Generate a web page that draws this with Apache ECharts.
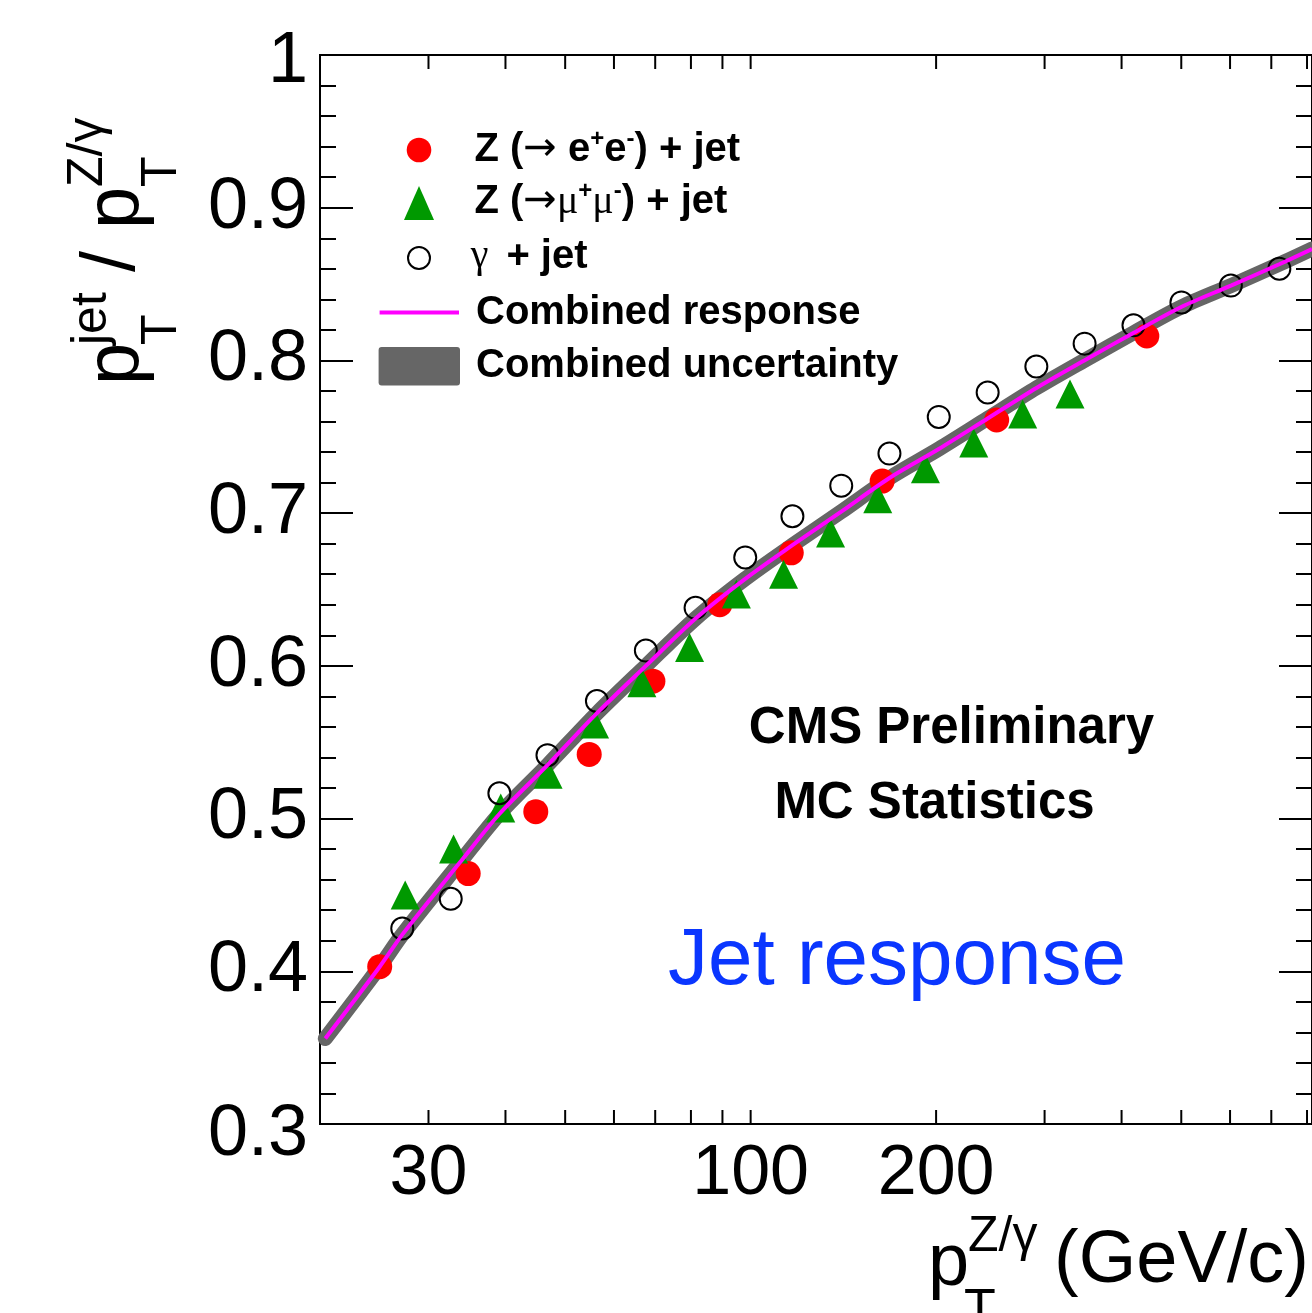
<!DOCTYPE html>
<html><head><meta charset="utf-8">
<script src="https://cdn.jsdelivr.net/npm/echarts@6/dist/echarts.min.js"></script>
<style>html,body{margin:0;padding:0;background:#fff}#c{width:1312px;height:1313px}</style>
</head><body><div id="c"></div>
<script>
// ---- data ----
const zeeX = [25.0, 34.8, 44.8, 54.7, 69.4, 89.1, 116.4, 163.5, 250.8, 439.6];
const zeeY = [0.403, 0.464, 0.5045, 0.542, 0.590, 0.640, 0.674, 0.721, 0.761, 0.816];
const zmmX = [27.5, 32.95, 39.3, 46.9, 55.8, 66.6, 79.6, 94.8, 113.1, 134.8, 160.8, 192.2, 230.2, 276.4, 329.9];
const zmmY = [0.450, 0.480, 0.507, 0.529, 0.562, 0.589, 0.612, 0.647, 0.660, 0.687, 0.7095, 0.729, 0.746, 0.765, 0.778];
const gamX = [27.2, 32.6, 39.1, 46.8, 56.3, 67.6, 81.4, 98.0, 116.9, 140.3, 168.0, 202.0, 242.5, 290.9, 348.4, 418.2, 500.3, 601.8, 721.4];
const gamY = [0.428, 0.4475, 0.5166, 0.5415, 0.577, 0.610, 0.638, 0.671, 0.698, 0.718, 0.739, 0.763, 0.779, 0.796, 0.811, 0.823, 0.838, 0.849, 0.860];
const combX = [20.4, 25, 27.2, 33.7, 39.1, 46.8, 56.3, 67.6, 81.4, 98, 116.9, 140.3, 168, 202, 242.5, 291, 348, 418, 500, 602, 721, 815];
const combY = [0.356, 0.403, 0.424, 0.471, 0.503, 0.535, 0.569, 0.600, 0.631, 0.657, 0.679, 0.701, 0.723, 0.742, 0.762, 0.782, 0.800, 0.818, 0.835, 0.849, 0.863, 0.873];
const xTicks = [30, 40, 50, 60, 70, 80, 90, 100, 200, 300, 400, 500, 600, 700, 800];
const xTickLabels = [30, 100, 200];
const yMin = 0.3, yMax = 1.0, yStep = 0.1;
const xMin = 20, xMax = 815;

const pairs = (xs, ys) => xs.map((x, i) => [x, ys[i]]);
const F = '"Liberation Sans", Arial, Helvetica, sans-serif';
const FS = '"Liberation Serif", "DejaVu Serif", serif';
const FA = '"DejaVu Sans", sans-serif';

const chart = echarts.init(document.getElementById('c'), null, {renderer: 'canvas'});

const yAxisCommon = {
  type: 'value', min: yMin, max: yMax, interval: yStep,
  axisLine: {show: true, lineStyle: {color: '#000', width: 2}},
  axisTick: {show: true, inside: true, length: 33, lineStyle: {color: '#000', width: 2}},
  minorTick: {show: true, splitNumber: 5, length: 16, lineStyle: {color: '#000', width: 2}},
  splitLine: {show: false}, minorSplitLine: {show: false}
};

const labFont = {fontSize: 72, fontFamily: F, color: '#000'};

const legendRich = {
  b: {fontSize: 40, fontWeight: 'bold', fontFamily: F, color: '#000', lineHeight: 46, verticalAlign: 'middle'},
  s: {fontSize: 40, fontFamily: FS, color: '#000', lineHeight: 46, verticalAlign: 'middle'},
  a: {fontSize: 40, fontFamily: FA, color: '#000', lineHeight: 46, verticalAlign: 'middle'},
  p: {fontSize: 24, fontFamily: F, fontWeight: 'bold', color: '#000', lineHeight: 28, verticalAlign: 'top'}
};

function legendText(x, y, text) {
  return {type: 'text', x: x, y: y, style: {text: text, rich: legendRich, verticalAlign: 'middle', align: 'left'}};
}

const titleY = {
  type: 'group', x: 140, y: 385, rotation: Math.PI / 2,
  children: [
    {type: 'text', x: 0, y: -23, style: {text: 'p', fontSize: 76, fontFamily: F, fill: '#000', verticalAlign: 'middle'}},
    {type: 'text', x: 40, y: 22, style: {text: 'T', fontSize: 50, fontFamily: F, fill: '#000', verticalAlign: 'middle'}},
    {type: 'text', x: 40, y: -48, style: {text: 'jet', fontSize: 50, fontFamily: F, fill: '#000', verticalAlign: 'middle'}},
    {type: 'text', x: 92, y: -27, style: {text: ' / ', fontSize: 76, fontFamily: F, fill: '#000', verticalAlign: 'middle'}},
    {type: 'text', x: 156, y: -23, style: {text: 'p', fontSize: 76, fontFamily: F, fill: '#000', verticalAlign: 'middle'}},
    {type: 'text', x: 198, y: 22, style: {text: 'T', fontSize: 50, fontFamily: F, fill: '#000', verticalAlign: 'middle'}},
    {type: 'text', x: 198, y: -52, style: {text: 'Z/γ', fontSize: 50, fontFamily: F, fill: '#000', verticalAlign: 'middle'}}
  ]
};

const titleX = [
  {type: 'text', x: 928, y: 1265, style: {text: 'p', fontSize: 74, fontFamily: F, fill: '#000', verticalAlign: 'middle'}},
  {type: 'text', x: 964, y: 1311, style: {text: 'T', fontSize: 52, fontFamily: F, fill: '#000', verticalAlign: 'middle'}},
  {type: 'text', x: 968, y: 1237, style: {text: 'Z/γ', fontSize: 50, fontFamily: F, fill: '#000', verticalAlign: 'middle'}},
  {type: 'text', x: 1309, y: 1262, style: {text: '(GeV/c)', fontSize: 74, fontFamily: F, fill: '#000', align: 'right', verticalAlign: 'middle'}}
];

const option = {
  animation: false,
  backgroundColor: '#fff',
  grid: {left: 320, top: 55, width: 993, height: 1069, show: true, borderColor: '#000', borderWidth: 2, backgroundColor: 'transparent'},
  xAxis: {type: 'log', logBase: 10, min: xMin, max: xMax,
    axisLine: {show: true, lineStyle: {color: '#000', width: 2}}, axisTick: {show: false}, axisLabel: {show: false},
    splitLine: {show: false}, minorTick: {show: false}},
  yAxis: [
    Object.assign({}, yAxisCommon, {position: 'left',
      axisLabel: Object.assign({show: true, margin: 12,
        formatter: v => {
          if (Math.abs(v - 1) < 1e-9) return '{top|1}';
          if (Math.abs(v - yMin) < 1e-9) return '{bot|' + v.toFixed(1) + '}';
          return v.toFixed(1);
        },
        rich: {
          top: Object.assign({padding: [14, 0, 0, 0]}, labFont),
          bot: Object.assign({padding: [22, 0, 0, 0]}, labFont)
        }}, labFont)}),
    Object.assign({}, yAxisCommon, {position: 'right', axisLabel: {show: false}})
  ],
  series: [
    {name: 'Combined uncertainty', type: 'line', data: pairs(combX, combY), smooth: 0.3, symbol: 'none', z: 2,
      lineStyle: {color: '#666666', width: 15, cap: 'round', join: 'round'}},
    {name: 'Z (→ e+e-) + jet', type: 'scatter', data: pairs(zeeX, zeeY), symbol: 'circle', symbolSize: 25, z: 3,
      itemStyle: {color: '#ff0000', opacity: 1}},
    {name: 'Z (→μ+μ-) + jet', type: 'scatter', data: pairs(zmmX, zmmY), symbol: 'triangle', symbolSize: [29, 29], z: 3,
      itemStyle: {color: '#009900', opacity: 1}},
    {name: 'γ + jet', type: 'scatter', data: pairs(gamX, gamY), symbol: 'circle', symbolSize: 22, z: 3,
      itemStyle: {color: 'rgba(0,0,0,0)', borderColor: '#000', borderWidth: 2, opacity: 1}},
    {name: 'Combined response', type: 'line', data: pairs(combX, combY), smooth: 0.3, symbol: 'none', z: 4,
      lineStyle: {color: '#ff00ff', width: 4}},
    {type: 'custom', data: xTicks.map(v => [v, yMin]), clip: false, silent: true, z: 10,
      renderItem: (params, api) => {
        const p = api.coord([api.value(0), yMin]);
        const cs = params.coordSys;
        const top = cs.y, bot = cs.y + cs.height;
        return {type: 'group', children: [
          {type: 'line', shape: {x1: p[0], y1: bot, x2: p[0], y2: bot - 14}, style: {stroke: '#000', lineWidth: 2}},
          {type: 'line', shape: {x1: p[0], y1: top, x2: p[0], y2: top + 14}, style: {stroke: '#000', lineWidth: 2}}
        ]};
      }},
    {type: 'custom', data: xTickLabels.map(v => [v, yMin]), clip: false, silent: true, z: 10,
      renderItem: (params, api) => {
        const p = api.coord([api.value(0), yMin]);
        return {type: 'text', x: p[0], y: p[1] + 51,
          style: {text: String(api.value(0)), fontSize: 70, fontFamily: F, fill: '#000', align: 'center', verticalAlign: 'middle'}};
      }}
  ],
  graphic: [
    {type: 'circle', shape: {cx: 419, cy: 150, r: 12.3}, style: {fill: '#ff0000'}},
    {type: 'polygon', shape: {points: [[419, 186], [434, 220], [404, 220]]}, style: {fill: '#009900'}},
    {type: 'circle', shape: {cx: 419, cy: 258, r: 11}, style: {fill: 'none', stroke: '#000', lineWidth: 2}},
    {type: 'line', shape: {x1: 379.6, y1: 312.5, x2: 459, y2: 312.5}, style: {stroke: '#ff00ff', lineWidth: 4}},
    {type: 'rect', shape: {x: 378.6, y: 347, width: 81.4, height: 38.5, r: 3}, style: {fill: '#666666'}},
    legendText(474.5, 150, '{b|Z (}{a|→}{b| e}{p|+}{b|e}{p|-}{b|) + jet}'),
    legendText(474.5, 202, '{b|Z (}{a|→}{s|μ}{p|+}{s|μ}{p|-}{b|) + jet}'),
    {type: 'text', x: 470.7, y: 256.5, style: {text: 'γ', fontSize: 40, fontFamily: FS, fill: '#000', verticalAlign: 'middle'}},
    {type: 'text', x: 506.4, y: 256.5, style: {text: '+ jet', fontSize: 40, fontWeight: 'bold', fontFamily: F, fill: '#000', verticalAlign: 'middle'}},
    {type: 'text', x: 476, y: 312.5, style: {text: 'Combined response', fontSize: 40, fontWeight: 'bold', fontFamily: F, fill: '#000', verticalAlign: 'middle'}},
    {type: 'text', x: 476, y: 366, style: {text: 'Combined uncertainty', fontSize: 40, fontWeight: 'bold', fontFamily: F, fill: '#000', verticalAlign: 'middle'}},
    {type: 'text', x: 951.5, y: 729, style: {text: 'CMS Preliminary', fontSize: 51, fontWeight: 'bold', fontFamily: F, fill: '#000', align: 'center', verticalAlign: 'middle'}},
    {type: 'text', x: 934.5, y: 804, style: {text: 'MC Statistics', fontSize: 51, fontWeight: 'bold', fontFamily: F, fill: '#000', align: 'center', verticalAlign: 'middle'}},
    {type: 'text', x: 668, y: 962, style: {text: 'Jet response', fontSize: 80, fontFamily: F, fill: '#0a36ff', align: 'left', verticalAlign: 'middle'}},
    titleY
  ].concat(titleX)
};
chart.setOption(option);
</script>
</body></html>
